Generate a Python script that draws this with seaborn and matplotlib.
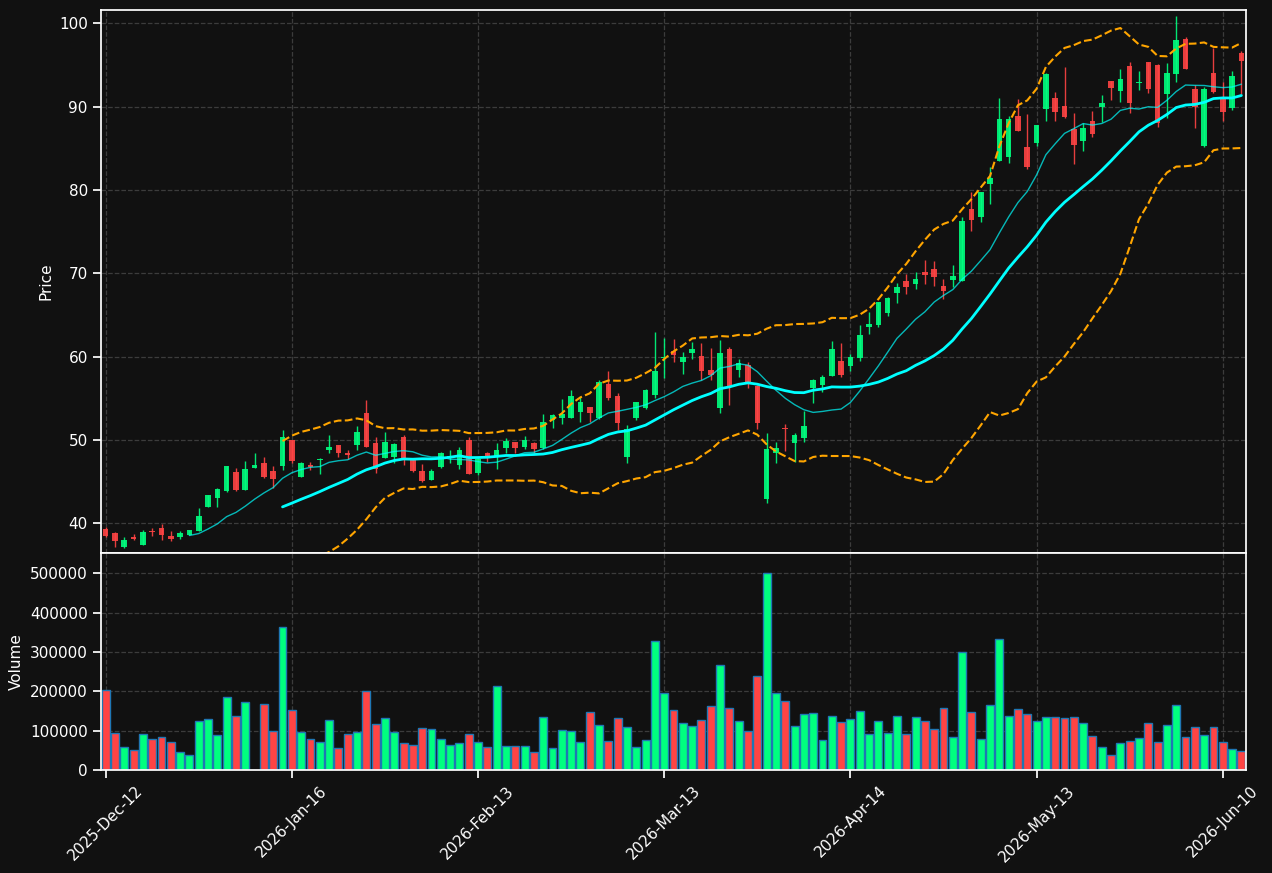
import numpy as np
import pandas as pd
import matplotlib
matplotlib.use("Agg")
import matplotlib.pyplot as plt
import seaborn as sns

# OHLC + volume (one entry per trading bar)
opens = [39.32, 38.84, 37.2, 38.4, 37.44, 39.06, 39.44, 38.48, 38.36, 38.64,
         39.08, 41.96, 43.04, 43.88, 46.16, 44.0, 46.64, 47.24, 46.28, 46.92,
         50.0, 45.6, 47.0, 47.56, 48.8, 49.4, 48.44, 49.44, 53.24, 49.6,
         47.88, 47.92, 50.32, 47.68, 46.28, 45.2, 46.8, 48.0, 47.04, 50.0,
         46.08, 48.4, 48.08, 49.08, 49.76, 49.2, 49.64, 49.0, 52.4, 52.64,
         52.68, 53.4, 53.96, 52.64, 56.72, 55.28, 48.0, 52.64, 53.88, 55.4,
         59.84, 60.68, 59.4, 60.48, 60.08, 58.4, 53.88, 60.92, 58.4, 59.0,
         56.52, 42.92, 48.48, 51.4, 49.68, 50.28, 56.28, 56.64, 57.72, 59.48,
         58.92, 59.84, 63.6, 63.8, 65.28, 67.68, 69.12, 68.76, 70.16, 70.48,
         68.44, 69.2, 69.12, 77.68, 76.8, 80.76, 83.52, 84.0, 88.88, 85.12,
         85.68, 89.76, 91.04, 90.08, 87.32, 85.92, 88.28, 90.0, 93.08, 91.92,
         94.88, 92.8, 95.36, 95.0, 91.56, 93.96, 98.12, 92.12, 85.28, 94.04,
         90.92, 89.88, 96.44]
highs = [39.6, 38.9, 38.32, 38.68, 39.16, 39.4, 39.88, 39.04, 39.08, 39.2,
         41.84, 43.45, 44.2, 46.9, 46.6, 47.48, 48.4, 47.92, 46.84, 51.16,
         50.0, 47.36, 47.32, 47.8, 50.56, 49.4, 48.76, 51.64, 54.84, 50.32,
         50.92, 49.6, 50.64, 47.7, 47.12, 46.48, 48.56, 48.8, 49.2, 50.32,
         47.8, 48.52, 49.6, 50.2, 49.8, 50.44, 49.7, 53.12, 53.16, 54.88,
         56.0, 55.2, 54.0, 57.2, 58.28, 55.6, 51.76, 54.6, 56.1, 62.96,
         62.2, 62.08, 60.52, 61.8, 61.6, 61.0, 61.96, 61.16, 59.68, 59.4,
         56.6, 50.8, 49.72, 51.88, 50.8, 53.44, 57.3, 57.8, 61.88, 61.6,
         60.36, 63.8, 65.32, 66.6, 67.1, 68.88, 69.88, 70.12, 71.56, 71.44,
         69.28, 71.04, 76.8, 79.8, 79.8, 82.72, 91.0, 88.92, 90.88, 89.08,
         87.85, 94.0, 91.72, 94.72, 89.2, 88.0, 89.44, 91.4, 93.1, 94.48,
         95.4, 94.32, 95.4, 95.12, 95.2, 100.88, 98.4, 92.56, 92.32, 97.0,
         92.92, 94.24, 96.68]
lows = [38.4, 37.12, 37.08, 37.96, 37.36, 38.52, 38.0, 37.92, 38.16, 38.6,
        39.08, 41.9, 42.0, 43.8, 43.9, 43.95, 46.6, 45.48, 44.2, 46.4,
        47.2, 45.5, 46.4, 45.88, 48.48, 47.96, 47.68, 48.76, 49.12, 46.08,
        47.8, 47.2, 46.96, 46.12, 44.96, 45.2, 46.68, 47.2, 46.48, 45.9,
        45.8, 47.4, 46.48, 48.48, 48.4, 48.88, 48.48, 48.9, 51.4, 51.88,
        52.6, 52.12, 52.2, 52.5, 54.8, 51.2, 47.28, 52.4, 53.68, 55.08,
        57.48, 59.4, 57.96, 59.68, 57.2, 57.16, 53.28, 54.24, 57.52, 56.28,
        51.28, 42.4, 47.2, 48.72, 47.4, 49.8, 54.48, 55.8, 57.7, 57.6,
        58.24, 59.44, 62.68, 63.52, 64.84, 66.4, 67.48, 68.08, 68.68, 68.52,
        66.88, 68.4, 69.1, 75.12, 76.2, 78.28, 83.5, 83.2, 87.1, 82.52,
        85.32, 88.24, 88.24, 88.7, 83.1, 84.68, 86.32, 88.12, 90.8, 90.52,
        89.2, 92.0, 91.6, 87.6, 88.6, 92.96, 94.5, 87.48, 85.12, 91.7,
        88.28, 89.56, 91.48]
closes = [38.52, 37.92, 38.0, 38.16, 38.96, 39.0, 38.6, 38.12, 38.84, 39.2,
          40.88, 43.4, 44.12, 46.88, 44.0, 46.52, 47.0, 45.56, 45.32, 50.36,
          47.52, 47.24, 46.8, 47.68, 49.16, 48.44, 48.16, 50.96, 49.2, 46.48,
          49.76, 49.52, 47.84, 46.28, 45.08, 46.28, 48.44, 48.08, 48.8, 45.96,
          47.72, 47.92, 48.8, 49.88, 49.08, 50.0, 48.96, 52.16, 52.96, 53.16,
          55.28, 54.56, 53.28, 56.96, 55.08, 52.04, 51.28, 54.52, 56.0, 58.28,
          59.96, 60.24, 59.92, 60.92, 58.28, 57.76, 60.44, 56.4, 59.2, 56.68,
          52.08, 48.92, 49.04, 51.28, 50.6, 51.68, 57.2, 57.56, 60.92, 57.8,
          60.0, 62.6, 63.92, 66.56, 67.04, 68.32, 68.4, 69.32, 69.84, 69.52,
          67.92, 69.64, 76.24, 76.4, 79.72, 81.4, 88.52, 88.52, 87.12, 82.76,
          87.8, 93.92, 89.4, 88.8, 85.44, 87.44, 86.76, 90.4, 92.28, 93.32,
          90.4, 92.96, 92.12, 88.0, 94.0, 98.0, 94.52, 90.0, 92.12, 91.8,
          89.4, 93.68, 95.48]
volumes = [203000, 94000, 58000, 50000, 91000, 78000, 83000, 71000, 45000, 37000,
           124000, 129000, 89000, 186000, 137000, 173000, 0, 168000, 99000, 364000,
           152000, 96000, 78000, 71000, 127000, 55000, 91000, 96000, 201000, 117000,
           132000, 96000, 68000, 63000, 106000, 104000, 78000, 63000, 68000, 91000,
           71000, 58000, 214000, 60000, 60000, 60000, 45000, 134000, 55000, 101000,
           99000, 71000, 147000, 114000, 73000, 132000, 109000, 58000, 76000, 329000,
           196000, 152000, 119000, 111000, 127000, 163000, 267000, 157000, 124000, 99000,
           239000, 502000, 196000, 175000, 111000, 142000, 145000, 76000, 137000, 122000,
           129000, 150000, 91000, 124000, 94000, 137000, 91000, 134000, 124000, 104000,
           157000, 83000, 300000, 147000, 78000, 165000, 334000, 137000, 155000, 142000,
           124000, 134000, 134000, 132000, 134000, 119000, 86000, 58000, 37000, 68000,
           73000, 81000, 119000, 71000, 114000, 165000, 83000, 109000, 89000, 109000,
           71000, 53000, 48000]
tick_labels = ['2025-Dec-12', '2026-Jan-16', '2026-Feb-13', '2026-Mar-13',
               '2026-Apr-14', '2026-May-13', '2026-Jun-10']

df = pd.DataFrame({'Open': opens, 'High': highs, 'Low': lows,
                   'Close': closes, 'Volume': volumes})
df['idx'] = np.arange(len(df))
df['dir'] = np.where(df['Close'] >= df['Open'], 'up', 'down')
df['MA10'] = df['Close'].rolling(10).mean()
df['MA20'] = df['Close'].rolling(20).mean()
std20 = df['Close'].rolling(20).std()
df['Upper'] = df['MA20'] + 2 * std20
df['Lower'] = df['MA20'] - 2 * std20

UP = '#00ff7f'
DOWN = '#ff4444'
BG = '#111111'

sns.set_theme(style="ticks", rc={
    'figure.facecolor': BG, 'axes.facecolor': BG, 'savefig.facecolor': BG,
    'axes.edgecolor': 'white', 'axes.labelcolor': 'white',
    'xtick.color': 'white', 'ytick.color': 'white', 'text.color': 'white',
})
plt.rcParams['font.family'] = ['DejaVu Sans']

fig = plt.figure(figsize=(12.72, 8.73), dpi=100)
gs = fig.add_gridspec(2, 1, height_ratios=[2.5, 1], hspace=0,
                      left=0.0794, right=0.9796, top=0.9885, bottom=0.118)
ax = fig.add_subplot(gs[0])
axv = fig.add_subplot(gs[1], sharex=ax)

# candles
colors = np.where(df['dir'] == 'up', UP, DOWN)
body_lo = np.minimum(df['Open'], df['Close'])
body_h = np.maximum(np.abs(df['Close'] - df['Open']), 0.06)
ax.vlines(df['idx'], df['Low'], df['High'], colors=colors, linewidth=1, alpha=0.9)
ax.bar(df['idx'], body_h, bottom=body_lo, width=0.6, color=colors, alpha=0.9, linewidth=0)

# indicators
sns.lineplot(data=df, x='idx', y='MA10', ax=ax, color='cyan', linewidth=1, alpha=0.7)
sns.lineplot(data=df, x='idx', y='MA20', ax=ax, color='cyan', linewidth=2)
sns.lineplot(data=df, x='idx', y='Upper', ax=ax, color='orange', linewidth=1.5, linestyle='--')
sns.lineplot(data=df, x='idx', y='Lower', ax=ax, color='orange', linewidth=1.5, linestyle='--')

ax.set_ylim(36.45, 101.6)
ax.set_ylabel('Price', fontsize=11)
ax.set_xlabel('')
ax.grid(True, linestyle='--', color='#3c3c3c', linewidth=0.9)
ax.tick_params(labelbottom=False, labelsize=11)

# volume
sns.barplot(data=df, x='idx', y='Volume', hue='dir', palette={'up': UP, 'down': DOWN},
            native_scale=True, dodge=False, width=0.85, errorbar=None, saturation=1,
            edgecolor='#1f77b4', linewidth=1, legend=False, ax=axv)
axv.set_ylim(0, max(volumes) * 1.1)
axv.ticklabel_format(style='plain', axis='y')
axv.set_ylabel('Volume', fontsize=11)
axv.set_xlabel('')
axv.grid(True, linestyle='--', color='#3c3c3c', linewidth=0.9)
axv.set_axisbelow(True)

axv.set_xlim(-0.5, len(df) - 0.5)
axv.set_xticks(range(0, len(df), 20))
axv.set_xticklabels(tick_labels, rotation=45)
axv.tick_params(labelsize=11)

fig.savefig('out.png', dpi=100, facecolor=BG)
